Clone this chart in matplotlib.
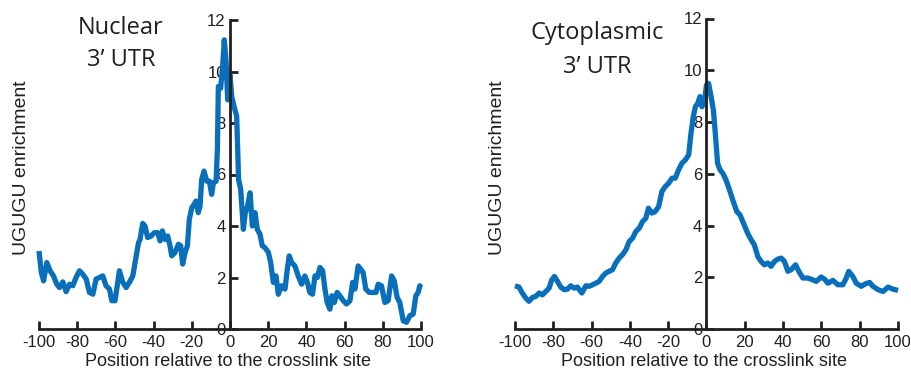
import matplotlib
matplotlib.use("Agg")
import matplotlib.pyplot as plt

# Nuclear 3' UTR profile (position, enrichment)
nuc_pos = [-100, -98.8, -97.6, -95.9, -94.2, -92.4, -90.7, -89.3, -87.5, -85.8,
           -84, -82.3, -80.6, -78.8, -77.1, -75.3, -73.6, -71.8, -70.1, -68.4,
           -66.6, -64.9, -63.1, -61.9, -60.2, -59.3, -57.9, -56.1, -54.4, -52.7,
           -50.9, -49.7, -47.9, -47.1, -45.7, -44.5, -43.1, -41.3, -39.6, -37.8,
           -36.6, -35.4, -34, -32.6, -31.4, -30.5, -28.8, -27, -25.8, -24.8,
           -23.5, -22.3, -21.3, -20, -18.8, -17.8, -16.6, -15.7, -14.8, -13.6,
           -12.2, -10.8, -9.6, -8.7, -7.3, -6.6, -6.1, -4.9, -3.8, -3,
           -2.1, -1.2, 0, 0.9, 2.1, 3.5, 4.5, 5.6, 7, 8,
           9.2, 10.5, 11.7, 13.1, 14.3, 15.7, 16.9, 18.3, 20.1, 21.3,
           22.7, 24.1, 25.3, 27, 28.8, 30, 31, 32.3, 34, 35.7,
           37.5, 39.2, 40.5, 41.8, 43.2, 44.5, 45.7, 47.1, 48.5, 49.7,
           50.9, 52.3, 53.4, 54.6, 56.1, 57.5, 59.3, 61, 62.8, 64.2,
           65.4, 67.1, 68.5, 69.7, 71.1, 72.9, 74.6, 76.4, 77.6, 79.3,
           81.1, 82.8, 84.6, 86, 87.5, 88.9, 90.7, 92.4, 94.2, 95.9,
           97.3, 98.5, 99.4, 100]
nuc_val = [3.03, 2.2, 1.87, 2.58, 2.26, 2.06, 1.74, 1.61, 1.83, 1.45,
           1.74, 1.68, 2.0, 2.26, 2.13, 1.94, 1.42, 1.35, 1.94, 2.0,
           2.06, 1.68, 1.55, 1.1, 1.1, 1.55, 2.26, 1.81, 1.61, 1.81,
           2.06, 2.58, 3.35, 3.48, 4.1, 4.0, 3.55, 3.61, 3.74, 3.74,
           3.42, 3.81, 3.48, 3.61, 3.23, 2.84, 2.97, 3.29, 3.23, 2.52,
           2.97, 3.23, 4.26, 4.71, 4.84, 4.97, 4.52, 4.77, 5.81, 6.13,
           5.74, 5.74, 5.23, 5.68, 5.74, 6.97, 9.42, 9.35, 10.26, 11.23,
           10.45, 8.9, 9.87, 9.03, 8.65, 8.26, 5.81, 5.42, 3.87, 4.52,
           4.77, 5.29, 4.0, 4.52, 3.87, 3.68, 3.23, 3.16, 2.97, 2.58,
           1.81, 2.06, 1.35, 1.68, 1.55, 2.32, 2.84, 2.58, 2.45, 2.06,
           1.74, 2.06, 1.81, 1.42, 1.35, 2.06, 2.0, 2.39, 2.26, 1.55,
           1.03, 0.77, 1.29, 1.03, 1.42, 1.29, 1.1, 0.97, 1.1, 1.81,
           1.55, 2.45, 2.32, 2.19, 1.55, 1.42, 1.42, 1.42, 1.74, 1.68,
           1.03, 1.1, 2.06, 1.87, 1.23, 1.03, 0.32, 0.26, 0.52, 0.58,
           1.29, 1.42, 1.68, 1.61]

# Cytoplasmic 3' UTR profile
cyt_pos = [-100, -97.9, -96.2, -94.4, -92.7, -90.9, -89.2, -87.4, -85.7, -83.9,
           -82.2, -80.8, -79.4, -77.8, -76.1, -74.3, -72.6, -70.9, -69.1, -67.4,
           -65.1, -63, -61.3, -59.5, -57.8, -56.1, -54.3, -52.6, -50.9, -49.1,
           -47.4, -45.6, -43.9, -42.1, -40.4, -38.6, -36.9, -35.1, -33.4, -31.7,
           -30.3, -28.5, -26.8, -25, -23.3, -21.6, -19.8, -18, -16.3, -14.6,
           -12.8, -11.1, -9.3, -8.1, -6.9, -5.8, -4.6, -3.4, -2.4, -1.1,
           0, 1.1, 2.4, 3.6, 4.6, 5.8, 7.1, 8.5, 10.2, 12,
           13.7, 15.8, 17.5, 19.3, 21.5, 23.3, 25, 26.8, 28.5, 30.3,
           32.1, 33.7, 35.5, 37.2, 39, 40.7, 42.5, 44.2, 46.5, 48.2,
           50.3, 52.9, 55.5, 57.3, 59.9, 61.6, 63.4, 66, 68.6, 71.2,
           73, 74.3, 76.4, 78.2, 80.8, 83.1, 85.2, 86.9, 89.6, 92.2,
           94.8, 97.4, 100]
cyt_val = [1.67, 1.62, 1.39, 1.2, 1.07, 1.22, 1.26, 1.39, 1.32, 1.45,
           1.58, 1.9, 2.03, 1.84, 1.62, 1.52, 1.54, 1.67, 1.58, 1.62,
           1.39, 1.67, 1.65, 1.71, 1.77, 1.84, 2.03, 2.16, 2.23, 2.29,
           2.55, 2.74, 2.87, 3.06, 3.38, 3.51, 3.77, 3.9, 4.15, 4.28,
           4.67, 4.48, 4.54, 4.73, 5.31, 5.5, 5.63, 5.83, 5.83, 6.15,
           6.41, 6.53, 6.73, 7.56, 8.21, 8.59, 8.72, 8.98, 8.59, 8.78,
           9.43, 9.49, 8.98, 8.46, 7.56, 6.4, 6.15, 6.02, 5.76, 5.38,
           4.99, 4.54, 4.41, 4.09, 3.7, 3.45, 3.25, 2.8, 2.61, 2.48,
           2.55, 2.42, 2.61, 2.7, 2.74, 2.61, 2.23, 2.29, 2.48, 2.23,
           1.97, 1.97, 1.9, 1.84, 2.01, 1.93, 1.77, 1.88, 1.71, 1.71,
           1.97, 2.23, 2.03, 1.77, 1.65, 1.75, 1.8, 1.65, 1.52, 1.45,
           1.62, 1.54, 1.49]

x_ticks = list(range(-100, 101, 20))
y_ticks = list(range(0, 13, 2))

LINE = "#0a6fbb"
INK = "#231f20"

plt.rcParams["font.family"] = ["Liberation Sans", "DejaVu Sans"]
plt.rcParams["axes.unicode_minus"] = False

fig = plt.figure(figsize=(9.12, 3.71), dpi=100)


def panel(rect, pos, val, title, title_xy, ylab_x, xlab_x):
    ax = fig.add_axes(rect)
    ax.plot(pos, val, color=LINE, lw=3.8, solid_capstyle="butt",
            solid_joinstyle="round", clip_on=False, zorder=2)
    ax.set_xlim(-100, 100)
    ax.set_ylim(0, 12)
    for s in ["top", "right"]:
        ax.spines[s].set_visible(False)
    ax.spines["left"].set_position(("data", 0))
    ax.spines["bottom"].set_position(("data", 0))
    for s in ["left", "bottom"]:
        ax.spines[s].set_linewidth(2.0)
        ax.spines[s].set_color(INK)
        ax.spines[s].set_zorder(3)
    ax.set_xticks(x_ticks)
    ax.set_yticks(y_ticks)
    ax.tick_params(direction="in", length=6, width=2.0, color=INK,
                   labelcolor=INK, labelsize=12)
    ax.tick_params(axis="x", pad=4)
    ax.tick_params(axis="y", pad=3)
    ax.patch.set_alpha(0)

    fig.text(ylab_x / 912, 1 - 168 / 371, "UGUGU enrichment", rotation=90,
             ha="center", va="center", fontsize=14, color=INK)
    fig.text(xlab_x / 912, 1 - 361 / 371, "Position relative to the crosslink site",
             ha="center", va="center", fontsize=13, color=INK)
    tx, ty1, ty2 = title_xy
    fig.text(tx / 912, 1 - ty1 / 371, title, ha="center", va="center",
             fontsize=17, color=INK, family=["Open Sans", "DejaVu Sans"])
    fig.text(tx / 912, 1 - ty2 / 371, "3\u2019 UTR", ha="center", va="center",
             fontsize=17, color=INK, family=["Open Sans", "DejaVu Sans"])
    return ax


panel([39 / 912, 42 / 371, 382 / 912, 309 / 371], nuc_pos, nuc_val,
      "Nuclear", (121, 28, 60), 22, 228)
panel([515 / 912, 42 / 371, 383 / 912, 310.5 / 371], cyt_pos, cyt_val,
      "Cytoplasmic", (597, 33, 67), 498, 704)

fig.savefig("out.png", dpi=100)
